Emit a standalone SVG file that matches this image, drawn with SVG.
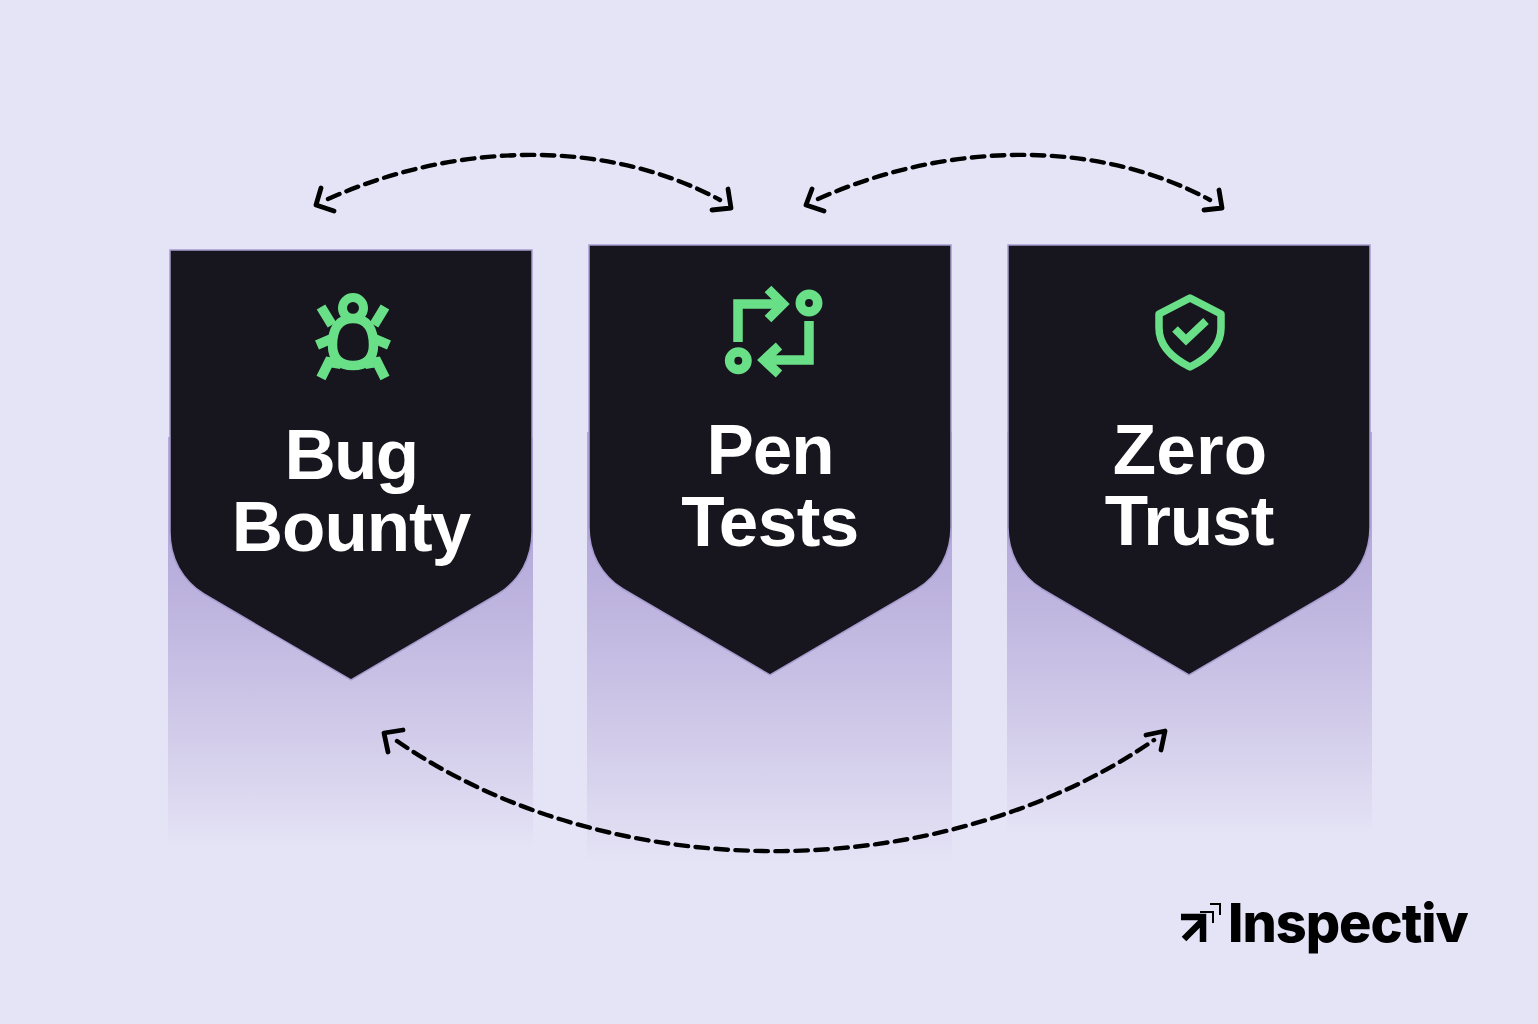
<svg xmlns="http://www.w3.org/2000/svg" width="1538" height="1024" viewBox="0 0 1538 1024">
<defs>
<style>
.bg{fill:#e5e3f6}
.card{fill:#17161e;stroke:#a79ccf;stroke-width:1.5}
.title{font-family:"Liberation Sans",Arial,sans-serif;font-weight:700;font-size:71px;fill:#fff;text-anchor:middle;letter-spacing:-1px}
.ic{fill:none;stroke:#69e088;stroke-linejoin:miter;stroke-linecap:butt}
.dash{fill:none;stroke:#000;stroke-width:4.4;stroke-dasharray:12.5 7.5;stroke-linecap:round}
.head{fill:none;stroke:#000;stroke-width:4.8;stroke-linecap:round;stroke-linejoin:round}
</style>
<linearGradient id="g" x1="0" y1="0" x2="0" y2="1">
<stop offset="0" stop-color="#b5aada"/>
<stop offset="0.3" stop-color="#c2b9e1"/>
<stop offset="0.72" stop-color="#d6d1ec"/>
<stop offset="1" stop-color="#e5e3f6"/>
</linearGradient>
</defs>
<rect class="bg" width="1538" height="1024"/>
<g id="bands">
<rect x="168" y="437" width="365" height="104" fill="#b5aada"/>
<rect x="587" y="432" width="365" height="104" fill="#b5aada"/>
<rect x="1007" y="432" width="365" height="104" fill="#b5aada"/>
<rect x="168" y="540" width="365" height="308" fill="url(#g)"/>
<rect x="587" y="535" width="365" height="328" fill="url(#g)"/>
<rect x="1007" y="535" width="365" height="300" fill="url(#g)"/>
</g>
<g id="node-bug-bounty">
<path class="card" d="M170 250H532V532C532 558 520 580 498 594L351 680L204 594C182 580 170 558 170 532Z"/>
<g class="ic" stroke-width="10">
<circle cx="353" cy="308" r="10.5" stroke-width="9"/>
<path d="M353 318.500C368 318.500 373.500 330 373.500 345C373.500 359 366 365.500 353 365.500C340 365.500 332.500 359 332.500 345C332.500 330 338 318.500 353 318.500Z" stroke-width="9.500"/>
<path d="M321 307L332 325M385 307L374 325M317 345L331 339M389 345L375 339M321 378L329 362L341 364M385 378L377 362L365 364"/>
</g>
<text class="title" x="351" y="479" style="letter-spacing:-1.6px">Bug</text>
<text class="title" x="351" y="551">Bounty</text>
</g>
<g id="node-pen-tests">
<path class="card" d="M589 245H951V527C951 553 939 575 917 589L770 675L623 589C601 575 589 553 589 527Z"/>
<g class="ic" stroke-width="9.5">
<path d="M738 342V304H784"/>
<path d="M768 289L783 304L768 319"/>
<circle cx="809" cy="303" r="8.7"/>
<path d="M809 321V360H764"/>
<path d="M779 346L764 360L779 374"/>
<circle cx="738.3" cy="360.7" r="8.7"/>
</g>
<text class="title" x="770" y="474">Pen</text>
<text class="title" x="770" y="546" style="letter-spacing:-.5px">Tests</text>
</g>
<g id="node-zero-trust">
<path class="card" d="M1008 245H1370V527C1370 553 1358 575 1336 589L1189 675L1042 589C1020 575 1008 553 1008 527Z"/>
<g class="ic" stroke-width="7.5" style="stroke-linejoin:round">
<path d="M1190 298L1221 314V328C1221 346 1208 358 1190 367C1172 358 1159 346 1159 328V314Z"/>
<path d="M1175 329L1186 340L1206 321" stroke-width="8" style="stroke-linejoin:miter"/>
</g>
<text class="title" x="1190" y="474" style="letter-spacing:.2px">Zero</text>
<text class="title" x="1189" y="545">Trust</text>
</g>
<g id="connectors">
<path class="dash" d="M328 199C460 140 610 140 720 200"/>
<path class="head" d="M321 188L316 205L334 211M712 210L731 208L728 189"/>
<path class="dash" d="M818 199C950 140 1100 140 1210 200"/>
<path class="head" d="M812 189L806 205L824 211M1204 210L1222 208L1219 190"/>
<path class="dash" d="M397 741C610 888 940 888 1154 740"/>
<path class="head" d="M388 752L384 733L403 730M1146 735L1165 731L1161 750"/>
</g>
<g id="logo">
<g fill="none" stroke="#000">
<path d="M1184 939L1202 921M1181 917H1203V942" stroke-width="6.5"/>
<path d="M1200 912H1213V923" stroke-width="2"/>
<path d="M1210 904H1220V915" stroke-width="2"/>
</g>
<text x="1228" y="942" font-family="Inter,'Liberation Sans',sans-serif" font-weight="800" font-size="54" letter-spacing="-1" fill="#000">Inspectiv</text>
</g>
</svg>
